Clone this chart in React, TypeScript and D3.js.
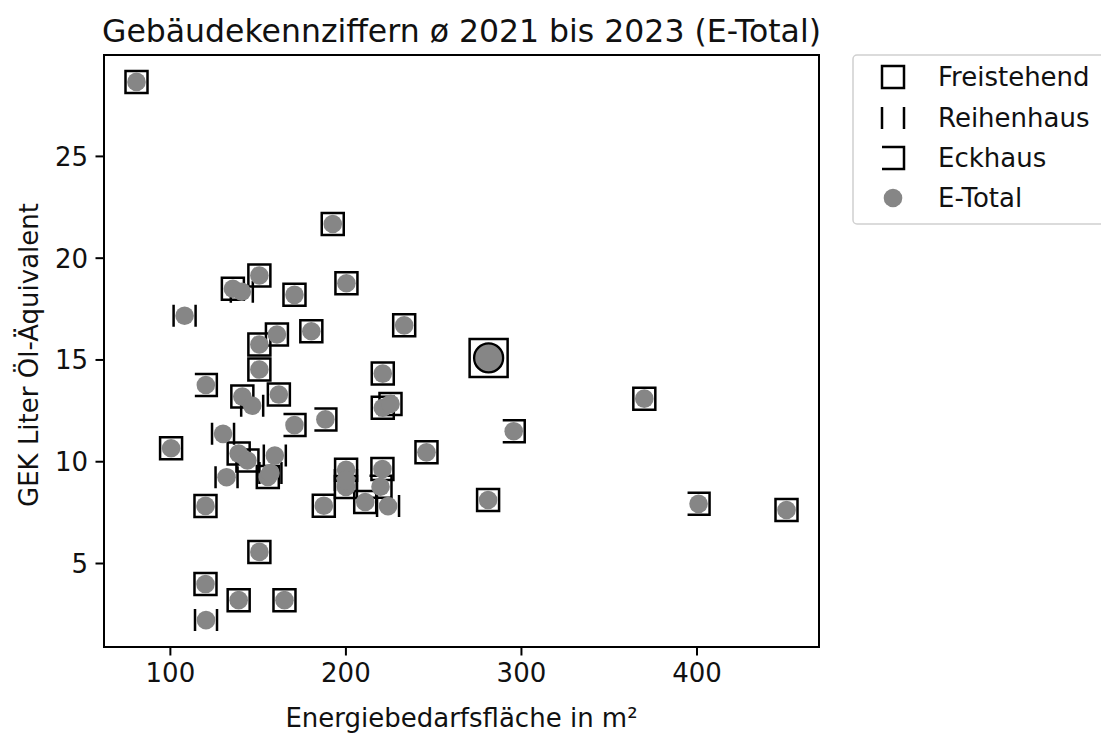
import React from 'react';
import * as d3 from 'd3';

// Freistehend (open squares)
const freiX = [80.7, 192.5, 150.7, 135.6, 170.7, 200.3, 180.3, 233.2, 160.7, 150.7, 150.7, 221, 141, 161.8, 221, 225.4, 370, 100.4, 138.9, 143.9, 155.5, 245.9, 200.1, 200, 220.8, 211, 187.4, 120, 281, 451, 150.7, 120, 138.9, 165];
const freiY = [28.66, 21.68, 19.15, 18.5, 18.2, 18.77, 16.41, 16.7, 16.25, 15.76, 14.53, 14.33, 13.2, 13.3, 12.65, 12.84, 13.1, 10.66, 10.4, 10.06, 9.25, 10.46, 9.6, 8.76, 9.64, 8.02, 7.84, 7.83, 8.12, 7.63, 5.57, 3.99, 3.2, 3.2];

// Reihenhaus (| |)
const reiheX = [108.1, 140.7, 146.6, 130, 159.5, 157, 132, 224, 120.3, 200];
const reiheY = [17.17, 18.35, 12.75, 11.37, 10.3, 9.45, 9.24, 7.82, 2.22, 9.1];

// Eckhaus (⊐)
const eckX = [120.2, 170.7, 188.3, 295.6, 400.9, 219.7];
const eckY = [13.77, 11.8, 12.08, 11.5, 7.93, 8.77];

// Mean (big marker)
const meanX = [281.3];
const meanY = [15.1];

const xTicks = [100, 200, 300, 400];
const yTicks = [5, 10, 15, 20, 25];

const legendLabels = ['Freistehend', 'Reihenhaus', 'Eckhaus', 'E-Total'];

const title = 'Gebäudekennziffern ø 2021 bis 2023 (E-Total)';
const xLabel = 'Energiebedarfsfläche in m²';
const yLabel = 'GEK Liter Öl-Äquivalent';

const GRAY = '#868686';
const FONT = 'DejaVu Sans';
const FS = 26;

const H = 11; // half marker size
const squarePath = (s: number) => `M${-s},${-s}H${s}V${s}H${-s}Z`;
const reihePath = (s: number) => `M${-s},${-s}V${s}M${s},${-s}V${s}`;
const eckPath = (s: number) => `M${-s},${-s}H${s}V${s}H${-s}`;

export default function App() {
  const W = 1101, Ht = 733;
  const m = { left: 104, right: 819, top: 55, bottom: 647 };

  const allX = [...freiX, ...reiheX, ...eckX, ...meanX];
  const allY = [...freiY, ...reiheY, ...eckY, ...meanY];
  const [xa, xb] = d3.extent(allX) as [number, number];
  const [ya, yb] = d3.extent(allY) as [number, number];
  const px = (xb - xa) * 0.05, py = (yb - ya) * 0.05;
  const x = d3.scaleLinear().domain([xa - px, xb + px]).range([m.left, m.right]);
  const y = d3.scaleLinear().domain([ya - py, yb + py]).range([m.bottom, m.top]);

  const pts = (xs: number[], ys: number[]) => xs.map((v, i) => [x(v), y(ys[i])]);
  const fr = pts(freiX, freiY);
  const re = pts(reiheX, reiheY);
  const ec = pts(eckX, eckY);
  const mn = pts(meanX, meanY);
  const circ = [...fr, ...re, ...ec];

  const legX = 893, legRows = [77, 118, 158, 198];

  return (
    <svg width={W} height={Ht} style={{ position: 'absolute', left: 0, top: 0, background: '#fff' }} fontFamily={FONT}>
      <rect x={0} y={0} width={W} height={Ht} fill="#fff" />
      <text x={(m.left + m.right) / 2} y={42} textAnchor="middle" fontSize={31.5} fill="#111">{title}</text>

      {/* markers */}
      <g fill="none" stroke="#000" strokeWidth={2.5}>
        {fr.map((p, i) => <path key={'f' + i} d={squarePath(H)} transform={`translate(${p[0]},${p[1]})`} />)}
        {re.map((p, i) => <path key={'r' + i} d={reihePath(H)} transform={`translate(${p[0]},${p[1]})`} />)}
        {ec.map((p, i) => <path key={'e' + i} d={eckPath(H)} transform={`translate(${p[0]},${p[1]})`} />)}
      </g>
      <g fill={GRAY}>
        {circ.map((p, i) => <circle key={'c' + i} cx={p[0]} cy={p[1]} r={9.3} />)}
      </g>
      {mn.map((p, i) => (
        <g key={'m' + i} transform={`translate(${p[0]},${p[1]})`}>
          <path d={squarePath(19)} fill="none" stroke="#000" strokeWidth={2.5} />
          <circle r={14.5} fill={GRAY} stroke="#000" strokeWidth={2.3} />
        </g>
      ))}

      {/* axes frame */}
      <rect x={m.left} y={m.top} width={m.right - m.left} height={m.bottom - m.top} fill="none" stroke="#000" strokeWidth={2} />

      {/* x ticks */}
      {xTicks.map(t => (
        <g key={'xt' + t}>
          <line x1={x(t)} x2={x(t)} y1={m.bottom} y2={m.bottom + 8.5} stroke="#000" strokeWidth={2} />
          <text x={x(t)} y={682} textAnchor="middle" fontSize={FS} fill="#111">{t}</text>
        </g>
      ))}
      {yTicks.map(t => (
        <g key={'yt' + t}>
          <line x1={m.left - 8.5} x2={m.left} y1={y(t)} y2={y(t)} stroke="#000" strokeWidth={2} />
          <text x={m.left - 16} y={y(t)} dy="0.36em" textAnchor="end" fontSize={FS} fill="#111">{t}</text>
        </g>
      ))}
      <text x={(m.left + m.right) / 2} y={727} textAnchor="middle" fontSize={FS} fill="#111">{xLabel}</text>
      <text transform={`translate(38,${(m.top + m.bottom) / 2 + 4}) rotate(-90)`} textAnchor="middle" fontSize={FS} fill="#111">{yLabel}</text>

      {/* legend */}
      <rect x={853} y={55} width={270} height={169} rx={4} fill="#fff" stroke="#d0d0d0" strokeWidth={1.5} />
      <path d={squarePath(H)} transform={`translate(${legX},${legRows[0]})`} fill="none" stroke="#000" strokeWidth={2.5} />
      <path d={reihePath(H)} transform={`translate(${legX},${legRows[1]})`} fill="none" stroke="#000" strokeWidth={2.5} />
      <path d={eckPath(H)} transform={`translate(${legX},${legRows[2]})`} fill="none" stroke="#000" strokeWidth={2.5} />
      <circle cx={legX} cy={legRows[3]} r={9.3} fill={GRAY} />
      {legendLabels.map((l, i) => (
        <text key={l} x={938} y={legRows[i]} dy="0.36em" fontSize={FS} fill="#111">{l}</text>
      ))}
    </svg>
  );
}
